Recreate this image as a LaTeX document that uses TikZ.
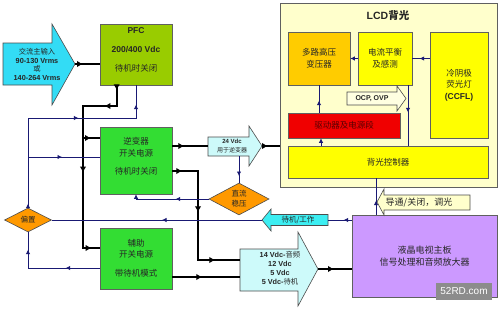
\documentclass[tikz,border=0pt]{standalone}
\usepackage{fontspec}
\setmainfont{Liberation Sans}
\newfontfamily\cjk{Noto Sans CJK SC}
\usetikzlibrary{shapes.geometric,arrows.meta,decorations.markings}
\newcommand{\latb}[1]{{\rmfamily\bfseries #1}}
\definecolor{navyl}{RGB}{25,25,115}
\definecolor{accyan}{RGB}{51,220,245}
\definecolor{lcyan}{RGB}{205,250,250}
\definecolor{stcyan}{RGB}{60,238,242}
\definecolor{pfcg}{RGB}{153,204,0}
\definecolor{grn}{RGB}{51,221,51}
\definecolor{lyel}{RGB}{255,255,204}
\definecolor{yel}{RGB}{255,255,0}
\definecolor{oyel}{RGB}{255,204,0}
\definecolor{redb}{RGB}{240,0,0}
\definecolor{org}{RGB}{255,153,0}
\definecolor{purp}{RGB}{204,153,255}
\definecolor{ocpf}{RGB}{255,255,225}
\tikzset{
 boxst/.style={draw=gray!75!black, line width=0.6pt, inner sep=0pt, align=center, text=black!85, font=\cjk\fontsize{8.5}{11.5}\selectfont},
 txt/.style={inner sep=0pt, align=center, text=black!85, font=\cjk\fontsize{8.5}{11.5}\selectfont},
 dia/.style={diamond, aspect=2, draw=gray!60!black, fill=org, line width=0.6pt, inner sep=0pt, align=center, text=black!85, font=\cjk\fontsize{7.5}{10}\selectfont},
 shp/.style={draw=gray!60!black, line width=0.6pt},
 thinln/.style={color=navyl, line width=0.8pt},
 thickln/.style={color=black, line width=2.4pt},
 ma/.style={postaction={decorate, decoration={markings, mark=at position #1 with {\arrow{Latex[length=4.5pt,width=4.5pt]}}}}},
 mt/.style={postaction={decorate, decoration={markings, mark=at position #1 with {\arrow{Latex[length=6pt,width=6.5pt]}}}}},
 endarr/.style={-{Latex[length=4.5pt,width=4.5pt]}},
}
\begin{document}
\begin{tikzpicture}[x=1pt,y=-1pt]
\path[use as bounding box, fill=white] (0,0) rectangle (500,308);

% ---------- AC input arrow
\draw[shp, fill=accyan] (3,43) -- (52,43) -- (52,24) -- (75,64) -- (52,105) -- (52,85) -- (3,85) -- cycle;
\coordinate (actip) at (75,64);
\node[txt, font=\fontsize{7.3}{8.4}\selectfont] (actxt) at (37,64.5) {{\cjk 交流主输入}\\\latb{90-130 Vrms}\\{\cjk 或}\\\latb{140-264 Vrms}};

% ---------- PFC
\node[boxst, fill=pfcg, minimum width=72pt, minimum height=61pt] (pfc) at (136,54.5) {};
\node[txt] (pfct) at (136,50) {\latb{PFC}\\[7.5pt]\latb{200/400 Vdc}\\[7.5pt]待机时关闭};

% ---------- LCD backlight block
\node[boxst, fill=lyel, minimum width=217pt, minimum height=184pt] (lcd) at (388.5,95) {};
\node[txt, font=\fontsize{10.5}{12}\selectfont] (lcdt) at (388,16) {\latb{LCD}{\cjk\bfseries 背光}};
\node[boxst, fill=oyel, minimum width=62pt, minimum height=53pt] (mp) at (319,58.5) {多路高压\\变压器};
\node[boxst, fill=yel, minimum width=54pt, minimum height=53pt] (cb) at (385,58.5) {电流平衡\\及感测};
\node[boxst, fill=yel, minimum width=58pt, minimum height=106pt] (ccfl) at (459,85) {冷阴极\\荧光灯\\\latb{(CCFL)}};
\node[boxst, fill=redb, text=black!65!red, minimum width=112pt, minimum height=25pt] (drv) at (344,125.5) {驱动器及电源段};
\node[boxst, fill=yel, minimum width=200pt, minimum height=32pt] (ctl) at (388,162) {背光控制器};
\draw[shp, fill=ocpf] (347,92) -- (397,92) -- (397,86) -- (406,98.5) -- (397,111) -- (397,105) -- (347,105) -- cycle;
\node[txt, font=\fontsize{7}{8}\selectfont] (ocpt) at (372,98.5) {\latb{OCP, OVP}};

% ---------- inverter / aux supplies
\node[boxst, fill=grn, minimum width=72pt, minimum height=67pt] (inv) at (136,160.5) {};
\node[txt] (invt) at (136,156.5) {逆变器\\开关电源\\[7pt]待机时关闭};
\node[boxst, fill=grn, minimum width=72pt, minimum height=61pt] (aux) at (136,258.5) {辅助\\开关电源\\[7.5pt]带待机模式};

% ---------- 24 Vdc arrow
\draw[shp, fill=lcyan] (208,137) -- (249,137) -- (249,126) -- (262,146) -- (249,166) -- (249,156) -- (208,156) -- cycle;
\coordinate (v24in) at (208,146);
\coordinate (v24tip) at (262,146);
\coordinate (v24bot) at (239,156);
\node[txt, font=\fontsize{6}{8.5}\selectfont] (v24t) at (232,146) {\latb{24 Vdc}\\{\cjk 用于逆变器}};

% ---------- diamonds
\node[dia, minimum width=60pt, minimum height=32pt] (dc) at (239,199) {直流\\稳压};
\node[dia, minimum width=47pt, minimum height=24pt] (bias) at (28,220) {偏置};

% ---------- main board
\node[boxst, fill=purp, minimum width=145pt, minimum height=82pt, font=\cjk\fontsize{9}{11.5}\selectfont] (mb) at (424.5,256) {液晶电视主板\\信号处理和音频放大器};
\node[fill=black!45, text=white, inner sep=0pt, minimum width=56pt, minimum height=17pt, font=\fontsize{10}{10}\selectfont] (wm) at (464,291.5) {52RD.com};

% ---------- 14 Vdc arrow
\draw[shp, fill=lcyan] (240,249) -- (298,249) -- (298,232) -- (318,269) -- (298,306) -- (298,291) -- (240,291) -- cycle;
\coordinate (v14a) at (240,260);
\coordinate (v14b) at (240,277);
\coordinate (v14tip) at (318,269);
\node[txt, font=\fontsize{7.3}{9}\selectfont] (v14t) at (280,268.5) {\latb{14 Vdc-}{\cjk 音频}\\\latb{12 Vdc}\\\latb{5 Vdc}\\\latb{5 Vdc-}{\cjk 待机}};

% ---------- standby / work arrow
\draw[shp, fill=stcyan] (262,220) -- (271,209) -- (271,214.5) -- (328,214.5) -- (328,225.5) -- (271,225.5) -- (271,231) -- cycle;
\coordinate (stT) at (262,220);
\coordinate (stR) at (328,220);
\node[txt, font=\cjk\fontsize{7.5}{9}\selectfont] (stt) at (298,220) {待机/工作};

% ---------- callout
\draw[shp, fill=lyel] (377,202) -- (384,189) -- (384,195) -- (470,195) -- (470,210) -- (384,210) -- (384,215) -- cycle;
\node[txt, font=\cjk\fontsize{9}{10}\selectfont] (cot) at (419,202.5) {导通/关闭，调光};

% ---------- helper coordinates
\coordinate (j1) at (83,106);
\coordinate (j2) at (198,171);
\coordinate (j3) at (136,118);
\coordinate (invA) at ([yshift=22.5pt]inv.west);
\coordinate (invB) at ([yshift=3.5pt]inv.west);
\coordinate (invO1) at ([yshift=14.5pt]inv.east);
\coordinate (invO2) at ([yshift=-10.5pt]inv.east);
\coordinate (auxA) at ([yshift=10.5pt]aux.west);
\coordinate (auxB) at ([yshift=-9.5pt]aux.west);
\coordinate (auxO) at ([yshift=-18.5pt]aux.east);
\coordinate (pfcA) at ([xshift=17pt]pfc.south west);
\coordinate (mbA) at ([yshift=36pt]mb.west);
\coordinate (mbT) at ([xshift=-48.5pt]mb.north);
\coordinate (ctlB) at (mbT |- ctl.south);
\coordinate (drvT) at (mp.south |- drv.north);
\coordinate (mpS2) at ([xshift=2pt]mp.south);
\coordinate (cbS) at ([xshift=23pt]cb.south);

% ---------- thick power lines
\draw[thickln, mt=8pt] (actip) -- (actip -| pfc.west);
\draw[thickln, mt=5pt, mt=33pt, mt=121pt, mt=205pt] (pfcA) |- (j1) |- (auxA);
\draw[thickln, mt=8pt] (invA -| j1) -- (invA);
\draw[thickln, mt=12pt] (invO1) -- (v24in);
\draw[thickln, mt=6pt] (v24tip) -- (v24tip -| lcd.west);
\draw[thickln, mt=10pt, mt=67pt, mt=132pt] (invO2) -- (j2) |- (v14a);
\draw[thickln, mt=30pt] (auxO) -- (v14b);
\draw[thickln, mt=16pt] (v14tip) -- (v14tip -| mb.west);

% ---------- thin control lines
\draw[thinln, ma=4pt, ma=140pt, ma=211pt] (bias.north) |- (j3) -- (pfc.south);
\draw[thinln, ma=34pt] (invB -| bias.north) -- (invB);
\draw[thinln, ma=34pt, ma=90pt] (auxB) -| (bias.south);
\draw[thinln, endarr, ma=33pt] (dc.west) -| (inv.south);
\draw[thinln, ma=20pt] (v24bot) -- (dc.north);
\draw[thinln, ma=8pt] (mbA) -- (stR);
\draw[thinln, ma=100pt] (stT) -- (bias.east);
\draw[thinln, endarr] (cb.west) -- (mp.east);
\draw[thinln, ma=10pt] (ccfl.west |- cb.east) -- (cb.east);
\draw[thinln, ma=12pt] (drvT) -- (mp.south);
\draw[thinln, endarr] (mpS2 |- ctl.north) -- (mpS2 |- drv.south);
\draw[thinln, ma=27pt] (cbS) -- (cbS |- ctl.north);
\draw[thinln, ma=14pt] (mbT) -- (ctlB);
\end{tikzpicture}
\end{document}
